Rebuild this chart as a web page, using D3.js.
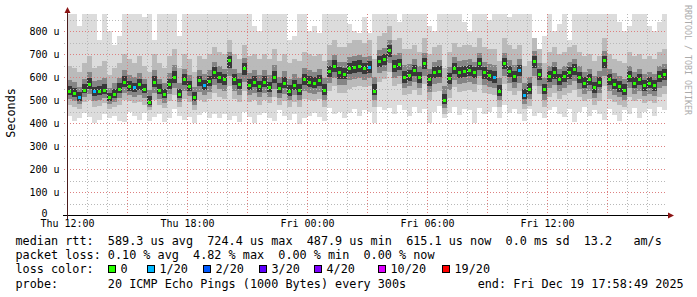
<!DOCTYPE html>
<html>
<head>
<meta charset="utf-8">
<script src="https://cdn.jsdelivr.net/npm/d3@7"></script>
<style>
  body { margin: 0; background: #fff; }
  svg { display: block; }
  text { font-family: "DejaVu Sans Mono", monospace; white-space: pre; }
</style>
</head>
<body>
<div id="chart"></div>
<script>
// 15-minute steps, Thu 12:00 -> Fri 18:00 (values in microseconds)
const median = [
  540,530,512,545,570,538,540,545,512,525,550,580,560,555,568,550,490,580,545,525,568,600,525,590,560,512,585,565,583,620,
  600,590,674,590,570,640,565,580,560,580,555,600,552,575,540,565,545,590,580,575,585,545,625,650,620,615,640,645,650,640,
  645,541,670,680,718,650,655,600,610,630,600,660,590,620,625,500,595,640,623,625,630,622,659,620,608,600,540,660,625,605,
  630,522,550,671,615,548,603,620,590,605,620,635,600,575,590,555,580,674,590,570,560,545,605,575,590,565,575,565,605,612
];
const pingMin = [
  430,410,420,445,425,400,415,440,420,430,410,405,450,430,415,445,410,425,440,405,420,460,430,415,425,400,435,450,420,440,
  420,440,415,430,405,450,425,400,435,445,420,410,455,430,415,440,395,420,430,445,425,410,465,440,450,420,445,460,430,455,
  450,400,470,455,465,440,480,455,430,470,445,460,400,450,475,420,445,470,435,460,455,400,465,440,450,470,420,480,445,460,
  440,410,460,430,445,420,455,470,440,425,460,405,450,470,430,455,440,415,460,435,410,455,440,465,420,450,460,430,470,455
];
const pingMax = [
  880,880,820,880,880,880,760,880,800,740,780,880,880,880,880,860,880,760,880,880,880,880,780,880,880,880,880,880,880,880,
  880,880,880,880,880,880,880,820,800,880,880,880,880,880,760,780,880,880,800,820,790,880,880,880,880,880,830,800,790,860,
  790,880,880,880,880,880,840,880,880,880,880,880,820,800,880,880,880,880,880,840,800,880,880,880,850,880,880,880,860,880,
  880,880,880,760,720,780,880,800,830,880,760,880,880,880,880,880,880,880,880,880,840,800,820,880,880,880,820,800,840,880
];
const pingP10 = [
  480,470,460,490,500,470,475,485,460,470,480,500,495,485,490,480,455,500,480,465,495,520,470,505,490,455,500,490,505,530,
  515,505,560,505,490,540,490,500,480,500,485,515,480,495,470,490,470,505,500,495,505,470,540,560,530,530,550,555,560,555,
  560,470,580,590,620,560,570,520,525,545,520,570,500,535,540,440,510,555,535,540,545,535,565,530,525,520,470,570,540,520,
  540,460,475,560,525,470,515,530,505,520,530,545,515,495,505,480,495,560,505,490,480,470,515,495,505,485,495,485,515,525
];
const pingP90 = [
  650,640,620,660,690,640,650,670,610,640,660,700,680,660,690,650,620,700,660,640,690,720,640,700,680,620,690,680,700,730,
  710,700,760,700,680,740,690,700,680,700,680,720,670,700,660,680,670,710,700,690,700,670,740,760,730,730,750,760,760,750,
  760,680,780,790,820,760,770,720,720,740,710,770,700,730,740,640,710,750,730,740,740,730,770,730,720,720,670,770,740,720,
  740,650,670,770,720,660,710,730,700,710,730,740,710,690,700,670,690,770,700,680,670,660,710,690,700,680,690,680,710,720
];
// steps where 1 of 20 pings was lost
const lossSteps = [2, 5, 13, 27, 60, 85, 90, 91];

const lossLabels = ["0", "1/20", "2/20", "3/20", "4/20", "10/20", "19/20"];
const lossColors = ["#26ff00", "#00b8ff", "#0059ff", "#5e00ff", "#7e00ff", "#dd00ff", "#ff0000"];
const lossBoxX = [108, 147, 203, 259, 314, 378, 442];

const legendLines = [
  "median rtt:  589.3 us avg  724.4 us max  487.9 us min  615.1 us now  0.0 ms sd  13.2   am/s",
  "packet loss: 0.10 % avg  4.82 % max  0.00 % min  0.00 % now",
  "loss color:",
  "probe:       20 ICMP Echo Pings (1000 Bytes) every 300s"
];
const endText = "end: Fri Dec 19 17:58:49 2025";

const width = 697, height = 297;
const start = new Date(2025, 11, 18, 12, 0);
const end = new Date(2025, 11, 19, 18, 0);
const stepMs = 15 * 60 * 1000;

const svg = d3.select("#chart").append("svg")
  .attr("width", width).attr("height", height);

const x = d3.scaleTime().domain([start, end]).range([67, 667]);
const y = d3.scaleLinear().domain([0, 874]).range([215, 14]).clamp(true);

const steps = median.map((m, i) => ({
  t0: new Date(+start + i * stepMs),
  t1: new Date(+start + (i + 1) * stepMs),
  med: m, lo: pingMin[i], hi: pingMax[i], p10: pingP10[i], p90: pingP90[i],
  loss: lossSteps.includes(i) ? 1 : 0
}));

// smoke, outer to inner
const smoke = svg.append("g").attr("shape-rendering", "crispEdges");
const bands = [
  { fill: "#dcdcdc", lo: d => d.lo, hi: d => d.hi },
  { fill: "#bababa", lo: d => d.p10, hi: d => d.p90 },
  { fill: "#858585", lo: d => d.med - (d.med - d.p10) * 0.6, hi: d => d.med + (d.p90 - d.med) * 0.42 },
  { fill: "#383838", lo: d => d.med - (d.med - d.p10) * 0.3, hi: d => d.med + (d.p90 - d.med) * 0.2 }
];
bands.forEach(b => {
  smoke.selectAll(null)
    .data(steps)
    .join("rect")
    .attr("x", d => x(d.t0))
    .attr("width", d => x(d.t1) - x(d.t0))
    .attr("y", d => y(b.hi(d)))
    .attr("height", d => y(b.lo(d)) - y(b.hi(d)))
    .attr("fill", b.fill);
});

// grid (drawn over the smoke, like rrdtool)
const grid = svg.append("g").attr("shape-rendering", "crispEdges");
const yGrid = d3.range(50, 874, 50);
grid.selectAll(".hgrid")
  .data(yGrid)
  .join("line")
  .attr("x1", 64).attr("x2", 667)
  .attr("y1", d => Math.round(y(d)) + 0.5).attr("y2", d => Math.round(y(d)) + 0.5)
  .attr("stroke", d => d % 100 === 0 ? "#dd8080" : "#b8b8b8")
  .attr("stroke-dasharray", "1,2");

const hours = x.ticks(d3.timeHour.every(1)).filter(t => +t > +start && +t < +end);
grid.selectAll(".vgrid")
  .data(hours)
  .join("line")
  .attr("x1", d => Math.round(x(d)) + 0.5).attr("x2", d => Math.round(x(d)) + 0.5)
  .attr("y1", 14).attr("y2", 218)
  .attr("stroke", d => d.getHours() % 3 === 0 ? "#dd8080" : "#b8b8b8")
  .attr("stroke-dasharray", "1,2");

// median, colored by loss
svg.append("g").attr("shape-rendering", "crispEdges")
  .selectAll("rect")
  .data(steps)
  .join("rect")
  .attr("x", d => x(d.t0) + 1)
  .attr("width", 3)
  .attr("y", d => Math.round(y(d.med)) - 1)
  .attr("height", 3)
  .attr("fill", d => lossColors[d.loss]);

// axes
const xAxis = svg.append("g")
  .attr("transform", "translate(0,215)")
  .call(d3.axisBottom(x).ticks(d3.timeHour.every(6)).tickFormat(d3.timeFormat("%a %H:%M")).tickSize(0).tickPadding(4.5));
xAxis.select(".domain").remove();
xAxis.selectAll("text").attr("font-size", 10).attr("font-family", "DejaVu Sans Mono").attr("fill", "#000");
xAxis.selectAll("text").filter(d => +d >= +end).remove();

const yAxis = svg.append("g")
  .attr("transform", "translate(67,0)")
  .call(d3.axisLeft(y).tickValues(d3.range(0, 801, 100)).tickFormat(d => d === 0 ? "0  " : d + " u").tickSize(0).tickPadding(7.5));
yAxis.select(".domain").remove();
yAxis.selectAll("text").attr("font-size", 10).attr("font-family", "DejaVu Sans Mono").attr("fill", "#000");
yAxis.selectAll("text").filter(d => d === 0).attr("dy", "0.1em");

svg.append("line")
  .attr("x1", 63).attr("x2", 669).attr("y1", 215.5).attr("y2", 215.5)
  .attr("stroke", "#000");
svg.append("line")
  .attr("x1", 67.5).attr("x2", 67.5).attr("y1", 219).attr("y2", 12)
  .attr("stroke", "#4a1c1c");
svg.append("path").attr("d", "M668,212.5 L674,215.5 L668,218.5 Z").attr("fill", "#8b1414");
svg.append("path").attr("d", "M64.5,13 L67.5,7 L70.5,13 Z").attr("fill", "#8b1414");

// titles
svg.append("text")
  .attr("transform", "translate(15,113) rotate(-90)")
  .attr("text-anchor", "middle")
  .attr("font-size", 11.8)
  .text("Seconds");
svg.append("text")
  .attr("transform", "translate(684.5,5) rotate(90)")
  .attr("font-size", 8.3)
  .attr("fill", "#ababab")
  .text("RRDTOOL / TOBI OETIKER");

// legend
const baselines = [244.5, 259, 273.3, 287.6];
svg.append("g").selectAll("text")
  .data(legendLines)
  .join("text")
  .attr("x", 15.5)
  .attr("y", (d, i) => baselines[i])
  .attr("font-size", 11.8)
  .text(d => d);
svg.append("text")
  .attr("x", 15.5 + 65 * 7.11)
  .attr("y", baselines[3])
  .attr("font-size", 11.8)
  .text(endText);

const lossLegend = svg.append("g");
lossLegend.selectAll("rect")
  .data(lossLabels)
  .join("rect")
  .attr("x", (d, i) => lossBoxX[i] + 0.5)
  .attr("y", 265.5)
  .attr("width", 7).attr("height", 7)
  .attr("fill", (d, i) => lossColors[i])
  .attr("stroke", "#000")
  .attr("shape-rendering", "crispEdges");
lossLegend.selectAll("text")
  .data(lossLabels)
  .join("text")
  .attr("x", (d, i) => lossBoxX[i] + 12.5)
  .attr("y", baselines[2])
  .attr("font-size", 11.8)
  .text(d => d);
</script>
</body>
</html>
